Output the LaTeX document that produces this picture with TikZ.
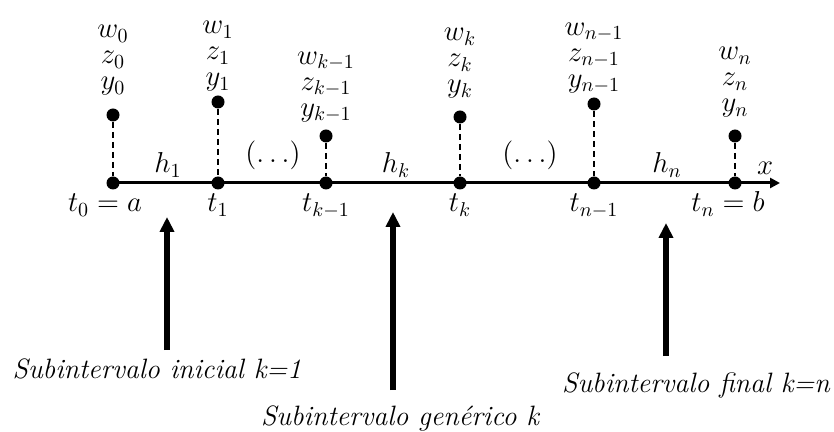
\documentclass[tikz,border=0pt]{standalone}
\usepackage{amsmath}
\usetikzlibrary{arrows.meta,positioning}

\begin{document}
\begin{tikzpicture}[x=0.5pt, y=-0.5pt,
  font=\fontsize{14}{13}\selectfont,
  dot/.style={circle, fill=black, inner sep=0pt, minimum size=6.5pt},
  stack/.style={align=center, anchor=south, inner sep=0pt},
  tick/.style={anchor=base, inner sep=0pt},
  guide/.style={densely dashed, line width=0.6pt},
  axisline/.style={-{Triangle[width=5pt,length=5pt]}, line width=1.5pt},
  arr/.style={-{Triangle[width=7pt,length=7.5pt]}, line width=3pt},
  lab/.style={font=\fontsize{14}{16}\selectfont\itshape, anchor=base, inner sep=0pt}
]
  \useasboundingbox (0,0) rectangle (834,432);

  % nodes on the axis
  \node[dot] (t0)  at (113,183) {};
  \node[dot] (t1)  at (218,183) {};
  \node[dot] (tkm) at (326,183) {};
  \node[dot] (tk)  at (460,183) {};
  \node[dot] (tnm) at (594,183) {};
  \node[dot] (tn)  at (735,183) {};
  \coordinate (xend) at (780,183);
  \draw[axisline] (t0.center) -- (xend);

  % values above each node
  \node[dot] (p0)  at (113,115) {};
  \node[dot] (p1)  at (218,102) {};
  \node[dot] (pkm) at (326,136) {};
  \node[dot] (pk)  at (460,117) {};
  \node[dot] (pnm) at (594,104) {};
  \node[dot] (pn)  at (735,136) {};
  \draw[guide] (p0) -- (t0);
  \draw[guide] (p1) -- (t1);
  \draw[guide] (pkm) -- (tkm);
  \draw[guide] (pk) -- (tk);
  \draw[guide] (pnm) -- (tnm);
  \draw[guide] (pn) -- (tn);

  \node[stack] (s0)  at (113,96)  {$w_0$\\$z_0$\\$y_0$};
  \node[stack] (s1)  at (218,92)  {$w_1$\\$z_1$\\$y_1$};
  \node[stack] (skm) at (326,123) {$w_{k-1}$\\$z_{k-1}$\\$y_{k-1}$};
  \node[stack] (sk)  at (460,99)  {$w_k$\\$z_k$\\$y_k$};
  \node[stack] (snm) at (594,94)  {$w_{n-1}$\\$z_{n-1}$\\$y_{n-1}$};
  \node[stack] (sn)  at (735,118) {$w_n$\\$z_n$\\$y_n$};

  % labels of the axis
  \node[tick] (l0)  at (105,212) {$t_0=a$};
  \node[tick] (l1)  at (218,212) {$t_1$};
  \node[tick] (lkm) at (326,212) {$t_{k-1}$};
  \node[tick] (lk)  at (460,212) {$t_k$};
  \node[tick] (lnm) at (594,212) {$t_{n-1}$};
  \node[tick] (ln)  at (728,212) {$t_n=b$};
  \node[tick] (h1)  at (168,173) {$h_1$};
  \node[tick] (hk)  at (396,173) {$h_k$};
  \node[tick] (hn)  at (667,173) {$h_n$};
  \node[tick] (d1)  at (273,163) {$(\ldots)$};
  \node[tick] (d2)  at (530,163) {$(\ldots)$};
  \node[tick] (xl)  at (765,175) {$x$};

  % subintervals
  \coordinate (a1) at (167,350); \coordinate (b1) at (167,217);
  \coordinate (a2) at (393,390); \coordinate (b2) at (393,212);
  \coordinate (a3) at (666,356); \coordinate (b3) at (666,223);
  \draw[arr] (a1) -- (b1);
  \draw[arr] (a2) -- (b2);
  \draw[arr] (a3) -- (b3);
  \node[lab] (ini) at (157,378) {Subintervalo inicial k=1};
  \node[lab] (gen) at (400,425) {Subintervalo genérico k};
  \node[lab] (fin) at (696,392) {Subintervalo final k=n};
\end{tikzpicture}
\end{document}
